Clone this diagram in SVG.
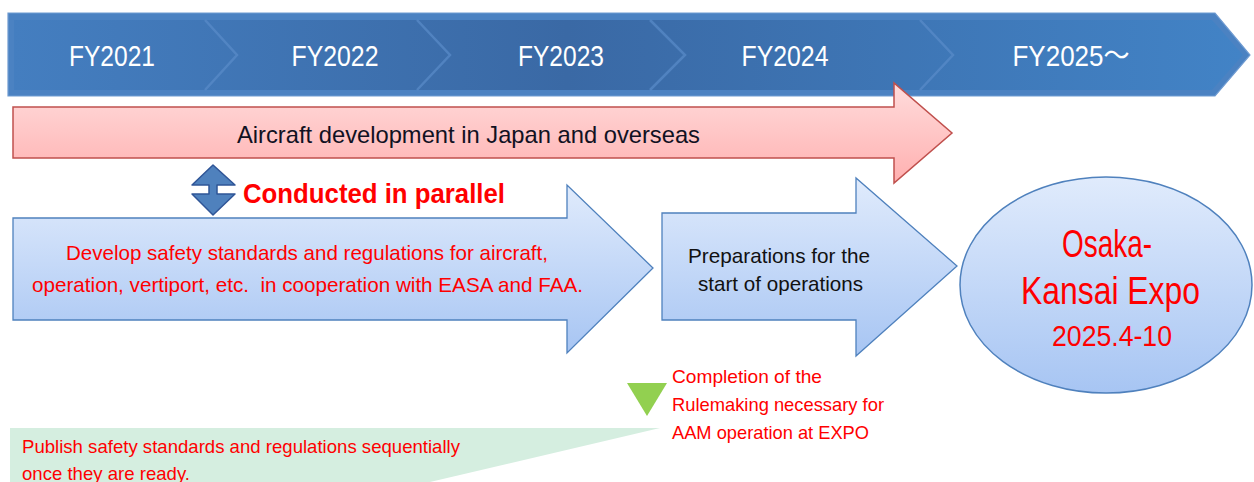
<svg xmlns="http://www.w3.org/2000/svg" width="1254" height="482" viewBox="0 0 1254 482">
<defs>
<linearGradient id="ban" x1="0" y1="0" x2="1" y2="0">
<stop offset="0" stop-color="#447ec0"/>
<stop offset="0.45" stop-color="#3a69a5"/>
<stop offset="1" stop-color="#4283c6"/>
</linearGradient>
<linearGradient id="pink" x1="0" y1="0" x2="0" y2="1">
<stop offset="0" stop-color="#ffdcdc"/>
<stop offset="1" stop-color="#ffb0b0"/>
</linearGradient>
<linearGradient id="blu" x1="0" y1="0" x2="0" y2="1">
<stop offset="0" stop-color="#e0ebfc"/>
<stop offset="1" stop-color="#a7c5f3"/>
</linearGradient>
<style>
.fy{font-family:"Liberation Sans",Arial,sans-serif;font-size:29px;fill:#ffffff;text-anchor:middle}
.t{font-family:"Liberation Sans",Arial,sans-serif}
.red{fill:#ff0000}
.sep{fill:none;stroke:#5a8bc9;stroke-width:2.5;stroke-opacity:0.7}
.barrow{fill:url(#blu);stroke:#4f81bd;stroke-width:1.3}
</style>
</defs>
<g id="banner">
<polygon points="8,13 1215,13 1250,55 1215,96 8,96" fill="#4b82c2" stroke="#6f9bd1" stroke-width="1.2"/>
<polygon points="14,20 1212,20 1243,55 1212,90 14,90" fill="url(#ban)"/>
<polyline class="sep" points="205,20 237,55 205,90"/>
<polyline class="sep" points="417,20 450,55 417,90"/>
<polyline class="sep" points="650,20 685,55 650,90"/>
<polyline class="sep" points="920,20 953,55 920,90"/>
<text class="fy" x="112" y="66" textLength="86" lengthAdjust="spacingAndGlyphs">FY2021</text>
<text class="fy" x="335" y="66" textLength="87" lengthAdjust="spacingAndGlyphs">FY2022</text>
<text class="fy" x="561" y="66" textLength="86" lengthAdjust="spacingAndGlyphs">FY2023</text>
<text class="fy" x="785" y="66" textLength="87" lengthAdjust="spacingAndGlyphs">FY2024</text>
<text class="fy" x="1071" y="66" textLength="117" lengthAdjust="spacingAndGlyphs" style="font-family:'Liberation Sans','Noto Sans CJK JP',sans-serif">FY2025～</text>
</g>
<g id="aircraft-dev">
<polygon points="13,107 894,107 894,83 952,133 894,183 894,158 13,158" fill="url(#pink)" stroke="#c0504d" stroke-width="1.5"/>
<text class="t" x="237" y="143" font-size="24" fill="#111122" textLength="463" lengthAdjust="spacingAndGlyphs">Aircraft development in Japan and overseas</text>
</g>
<g id="parallel">
<polygon points="213,165 235,185 217,185 217,194 235,194 213,215 192,194 209,194 209,185 192,185" fill="#4f81bd" stroke="#2f5597" stroke-width="1.5" stroke-linejoin="round"/>
<text class="t red" x="243" y="203" font-size="28" font-weight="bold" textLength="262" lengthAdjust="spacingAndGlyphs">Conducted in parallel</text>
</g>
<g id="develop">
<polygon class="barrow" points="13,218 567,218 567,185 653,268 567,353 567,320 13,320"/>
<text class="t red" x="66" y="260" font-size="21" textLength="482" lengthAdjust="spacingAndGlyphs">Develop safety standards and regulations for aircraft,</text>
<text class="t red" x="32" y="292" font-size="21" textLength="551" lengthAdjust="spacingAndGlyphs" xml:space="preserve">operation, vertiport, etc.  in cooperation with EASA and FAA.</text>
</g>
<g id="preparations">
<polygon class="barrow" points="662,213 856,213 856,178 957,266 856,356 856,320 662,320"/>
<text class="t" x="688" y="263" font-size="21" fill="#111111" textLength="182" lengthAdjust="spacingAndGlyphs">Preparations for the</text>
<text class="t" x="698" y="291" font-size="21" fill="#111111" textLength="165" lengthAdjust="spacingAndGlyphs">start of operations</text>
</g>
<g id="expo">
<ellipse cx="1106" cy="285" rx="146" ry="108" fill="url(#blu)" stroke="#4f81bd" stroke-width="1.5"/>
<text class="t red" x="1062" y="257" font-size="38" textLength="90" lengthAdjust="spacingAndGlyphs">Osaka-</text>
<text class="t red" x="1021" y="304" font-size="38" textLength="179" lengthAdjust="spacingAndGlyphs">Kansai Expo</text>
<text class="t red" x="1052" y="346" font-size="29" textLength="120" lengthAdjust="spacingAndGlyphs">2025.4-10</text>
</g>
<g id="milestone">
<polygon points="627,383 667,383 647,416" fill="#92d050"/>
<text class="t red" x="672" y="383" font-size="19" textLength="150" lengthAdjust="spacingAndGlyphs">Completion of the</text>
<text class="t red" x="672" y="411" font-size="19" textLength="212" lengthAdjust="spacingAndGlyphs">Rulemaking necessary for</text>
<text class="t red" x="672" y="439" font-size="19" textLength="197" lengthAdjust="spacingAndGlyphs">AAM operation at EXPO</text>
</g>
<g id="publish">
<polygon points="10,428 660,428 430,482 10,482" fill="#d5eee0"/>
<text class="t red" x="22" y="453" font-size="19" textLength="438" lengthAdjust="spacingAndGlyphs">Publish safety standards and regulations sequentially</text>
<text class="t red" x="22" y="480" font-size="19" textLength="168" lengthAdjust="spacingAndGlyphs">once they are ready.</text>
</g>
<g id="connectors"></g>
</svg>
